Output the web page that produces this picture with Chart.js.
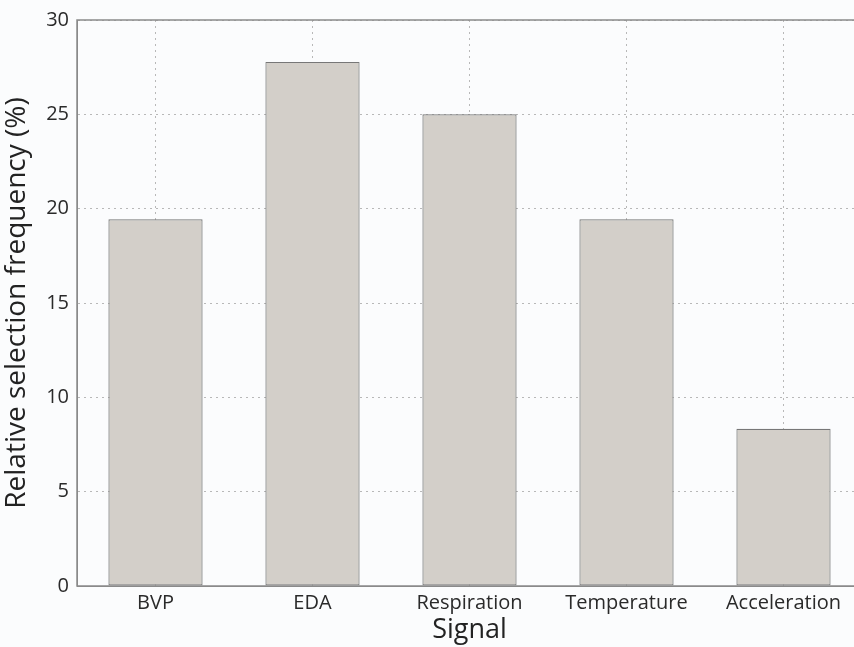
<!DOCTYPE html>
<html>
<head>
<meta charset="utf-8">
<script src="https://cdn.jsdelivr.net/npm/chart.js@4"></script>
<style>
  html, body { margin: 0; padding: 0; background: #fbfcfd; overflow: hidden; }
  #wrap { width: 870px; height: 647px; }
</style>
</head>
<body>
<div id="wrap"><canvas id="grafico"></canvas></div>
<script>
// datos
const senales = ["BVP", "EDA", "Respiration", "Temperature", "Acceleration"];
const frecuencias = [19.44, 27.78, 25.0, 19.44, 8.33];
const ticksY = [0, 5, 10, 15, 20, 25, 30];

const fuente = "'Open Sans', 'Noto Sans', sans-serif";

// marco completo alrededor del area del grafico
const marco = {
  id: "marco",
  afterDraw(chart) {
    const a = chart.chartArea;
    const ctx = chart.ctx;
    ctx.save();
    ctx.setLineDash([]);
    ctx.strokeStyle = "#8a8a8a";
    ctx.lineWidth = 1.5;
    ctx.strokeRect(a.left, a.top, a.right - a.left, a.bottom - a.top);
    ctx.restore();
  }
};

const ctx = document.getElementById("grafico").getContext("2d");
const miGrafico = new Chart(ctx, {
  type: "bar",
  data: {
    labels: senales,
    datasets: [{
      data: frecuencias,
      backgroundColor: "#d3cfc9",
      borderColor: "#777777",
      borderWidth: 1.2,
      borderSkipped: false,
      barPercentage: 0.6,
      categoryPercentage: 1.0
    }]
  },
  options: {
    responsive: true,
    maintainAspectRatio: false,
    animation: false,
    layout: { padding: { left: 0, right: 8, top: 17, bottom: 0 } },
    plugins: { legend: { display: false }, tooltip: { enabled: false } },
    scales: {
      x: {
        grid: { offset: false, color: "#b8b8b8", drawTicks: false },
        border: { display: true, color: "#8a8a8a", dash: [2, 4] },
        ticks: { color: "#2a2a2a", font: { family: fuente, size: 20 }, padding: 5 },
        title: { display: true, text: "Signal", color: "#222", font: { family: fuente, size: 27 }, padding: { top: -4, bottom: 0 } },
        afterFit(scale) { scale.height = 61; }
      },
      y: {
        min: 0,
        max: 30,
        afterBuildTicks(scale) { scale.ticks = ticksY.map(v => ({ value: v })); },
        grid: { color: "#b8b8b8", drawTicks: false },
        border: { display: true, color: "#8a8a8a", dash: [2, 4] },
        ticks: { color: "#2a2a2a", font: { family: fuente, size: 20 }, padding: 8 },
        title: { display: true, text: "Relative selection frequency (%)", color: "#222", font: { family: fuente, size: 28 }, padding: { top: 0, bottom: 2 } },
        afterFit(scale) { scale.width = 77; }
      }
    }
  },
  plugins: [marco]
});
</script>
</body>
</html>
